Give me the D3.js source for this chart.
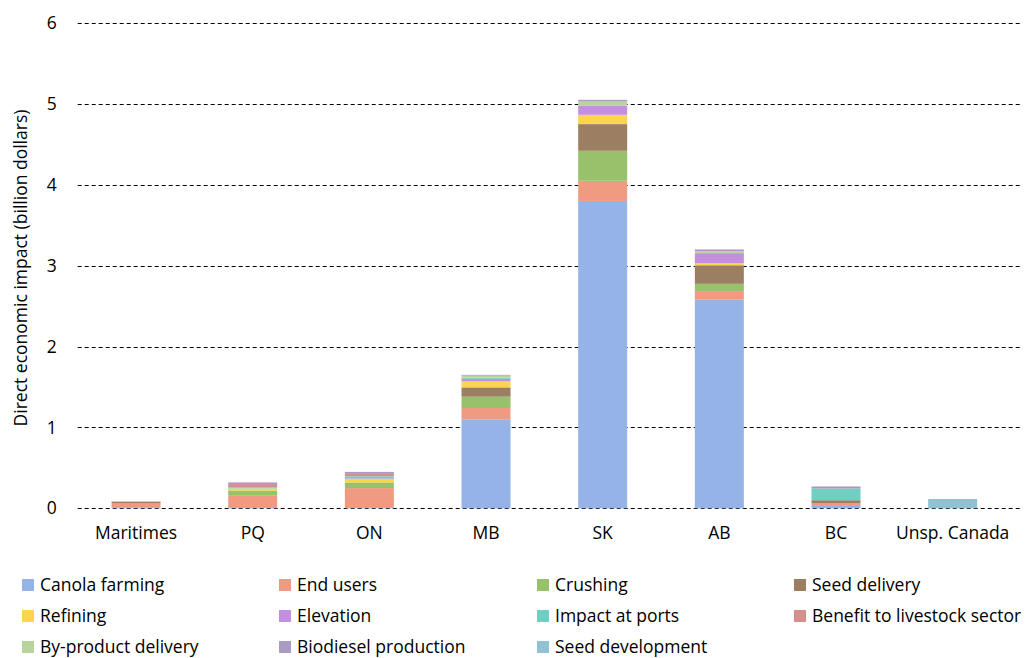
<!DOCTYPE html>
<html>
<head>
<meta charset="utf-8">
<script src="https://cdn.jsdelivr.net/npm/d3@7"></script>
<style>
  html, body { margin: 0; padding: 0; background: #fff; }
  svg text { font-family: "Open Sans", "Noto Sans", sans-serif; fill: #000; }
</style>
</head>
<body>
<svg id="chart" width="1028" height="658"></svg>
<script>
// Regions along the x axis
const regions = ["Maritimes", "PQ", "ON", "MB", "SK", "AB", "BC", "Unsp. Canada"];

// Impact components, stacked bottom to top (billion dollars per region)
const canolaFarming      = [0.005, 0.015, 0.015, 1.10, 3.80, 2.58, 0.040, 0];
const endUsers           = [0.060, 0.140, 0.235, 0.14, 0.25, 0.105, 0.025, 0];
const crushing           = [0,     0.065, 0.070, 0.14, 0.37, 0.09, 0,     0];
const seedDelivery       = [0.015, 0,     0,     0.115, 0.33, 0.23, 0.035, 0];
const refining           = [0,     0.025, 0.040, 0.075, 0.115, 0.025, 0,  0];
const elevation          = [0,     0,     0.010, 0.03, 0.115, 0.115, 0,   0];
const impactAtPorts      = [0,     0.015, 0.025, 0.01, 0,    0,    0.145, 0];
const benefitToLivestock = [0.005, 0.040, 0.030, 0.005, 0,   0.01, 0,     0];
const byProductDelivery  = [0,     0,     0,     0.025, 0.05, 0.025, 0,   0];
const biodieselProduction= [0,     0.020, 0.025, 0.01, 0.02, 0.02, 0.025, 0];
const seedDevelopment    = [0,     0,     0,     0,    0,    0,    0,     0.115];

const seriesNames = ["Canola farming", "End users", "Crushing", "Seed delivery",
  "Refining", "Elevation", "Impact at ports", "Benefit to livestock sector",
  "By-product delivery", "Biodiesel production", "Seed development"];
const seriesValues = [canolaFarming, endUsers, crushing, seedDelivery, refining,
  elevation, impactAtPorts, benefitToLivestock, byProductDelivery,
  biodieselProduction, seedDevelopment];
const seriesColors = ["#95b3e7", "#f09b81", "#97c16a", "#9c7f62", "#fdd54c",
  "#c48ee3", "#6fcfc1", "#d4908f", "#b9d49b", "#a99bc1", "#90c2d3"];

const yTicks = [0, 1, 2, 3, 4, 5, 6];

const FONT = 17.5;
const svg = d3.select("#chart");

const plot = { left: 77.7, right: 1011, top: 23, bottom: 508.3 };

// Build rows for the stack layout
const rows = regions.map((r, i) => {
  const row = { region: r };
  seriesNames.forEach((s, k) => { row[s] = seriesValues[k][i]; });
  return row;
});
const stacked = d3.stack().keys(seriesNames)(rows);

const x = d3.scaleBand().domain(regions)
  .range([plot.left, plot.right])
  .paddingInner(0.58).paddingOuter(0.29);
const y = d3.scaleLinear().domain([0, 6]).range([plot.bottom, plot.top]);
const color = d3.scaleOrdinal().domain(seriesNames).range(seriesColors);

// Dashed horizontal gridlines
svg.append("g")
  .selectAll("line")
  .data(yTicks)
  .join("line")
  .attr("x1", plot.left)
  .attr("x2", 1020)
  .attr("y1", d => Math.round(y(d)) + 0.5)
  .attr("y2", d => Math.round(y(d)) + 0.5)
  .attr("stroke", "#000")
  .attr("stroke-width", 1.2)
  .attr("stroke-dasharray", "4,3");

// Y axis tick labels
const yAxis = d3.axisLeft(y).tickValues(yTicks).tickFormat(d3.format("d"))
  .tickSize(0).tickPadding(0);
const yg = svg.append("g").attr("transform", `translate(${plot.left - 21},0)`).call(yAxis);
yg.select(".domain").remove();
yg.selectAll("text").attr("font-size", FONT).attr("font-family", null);

// Stacked bars
svg.append("g")
  .selectAll("g")
  .data(stacked)
  .join("g")
  .attr("fill", d => color(d.key))
  .selectAll("rect")
  .data(d => d)
  .join("rect")
  .attr("x", d => x(d.data.region))
  .attr("width", x.bandwidth())
  .attr("y", d => y(d[1]))
  .attr("height", d => Math.max(0, y(d[0]) - y(d[1])));

// X axis category labels
const xAxis = d3.axisBottom(x).tickSize(0).tickPadding(0);
const xg = svg.append("g").attr("transform", `translate(0,${plot.bottom + 18})`).call(xAxis);
xg.select(".domain").remove();
xg.selectAll("text").attr("font-size", FONT).attr("font-family", null).attr("dy", "0.71em");

// Y axis title
svg.append("text")
  .attr("transform", `translate(27,268) rotate(-90)`)
  .attr("text-anchor", "middle")
  .attr("font-size", FONT)
  .text("Direct economic impact (billion dollars)");

// Legend, four columns
const legendCols = [22, 279, 537, 794];
const legendRows = [585, 616, 647];
const legend = svg.append("g")
  .selectAll("g")
  .data(seriesNames)
  .join("g")
  .attr("transform", (d, i) => `translate(${legendCols[i % 4]},${legendRows[Math.floor(i / 4)]})`);
legend.append("rect")
  .attr("x", 0).attr("y", -6).attr("width", 12).attr("height", 12)
  .attr("fill", d => color(d));
legend.append("text")
  .attr("x", 18).attr("y", 0).attr("dy", "0.35em")
  .attr("font-size", FONT)
  .text(d => d);
</script>
</body>
</html>
